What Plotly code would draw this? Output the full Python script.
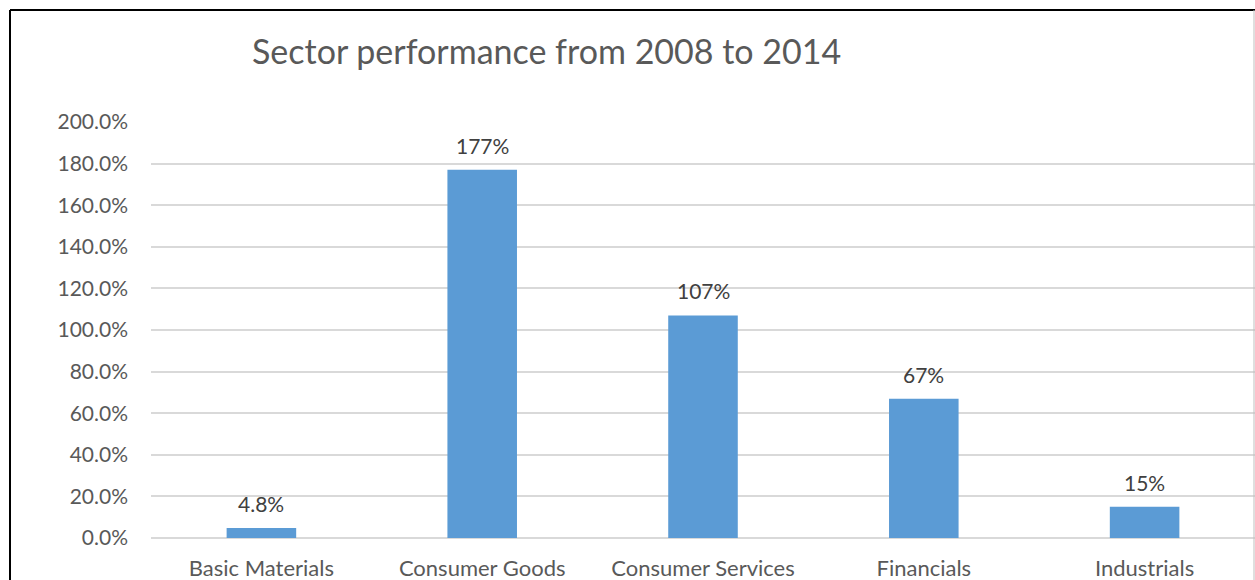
import plotly.graph_objects as go

# Sector returns over 2008-2014, as fractions
sectors = ["Basic Materials", "Consumer Goods", "Consumer Services", "Financials", "Industrials"]
returns = [0.048, 1.77, 1.07, 0.67, 0.15]
y_ticks = [0, 0.2, 0.4, 0.6, 0.8, 1.0, 1.2, 1.4, 1.6, 1.8, 2.0]

FONT = "Lato, 'Noto Sans', sans-serif"
W, H = 1255, 580
L, R, T, B = 151, 0, 122, 42

fig = go.Figure(
    go.Bar(
        x=sectors,
        y=returns,
        marker=dict(color="#5B9BD5", line=dict(width=0)),
        width=0.315,
        hoverinfo="skip",
    )
)

# value labels above each bar
for s, v in zip(sectors, returns):
    fig.add_annotation(
        x=s, y=v, xref="x", yref="y",
        text=f"{v * 100:.3g}%",
        showarrow=False, yanchor="bottom", yshift=10,
        font=dict(family=FONT, size=21, color="#404040"),
    )

# chart frame (top/left dark, right light)
def px_x(p):
    return (p - L) / (W - L - R)

def px_y(p):
    return (H - B - p) / (H - T - B)

fig.add_shape(type="line", xref="paper", yref="paper",
              x0=px_x(10), x1=px_x(1256), y0=px_y(10), y1=px_y(10),
              line=dict(color="#000000", width=2))
fig.add_shape(type="line", xref="paper", yref="paper",
              x0=px_x(10), x1=px_x(10), y0=px_y(10), y1=px_y(582),
              line=dict(color="#000000", width=2))
fig.add_shape(type="line", xref="paper", yref="paper",
              x0=px_x(1254), x1=px_x(1254), y0=px_y(10), y1=px_y(582),
              line=dict(color="#BFBFBF", width=1))

fig.update_layout(
    width=W, height=H,
    margin=dict(l=L, r=R, t=T, b=B, pad=0),
    paper_bgcolor="white", plot_bgcolor="white",
    showlegend=False,
    bargap=0.685,
    title=dict(
        text="Sector performance from 2008 to 2014",
        x=252 / W, xanchor="left", xref="container",
        y=1 - 52 / H, yanchor="middle", yref="container",
        font=dict(family=FONT, size=34, color="#595959"),
    ),
    xaxis=dict(
        type="category", showgrid=False, showline=False, zeroline=False,
        ticks="", ticklabelstandoff=15,
        tickfont=dict(family=FONT, size=22, color="#595959"),
    ),
    yaxis=dict(
        range=[0, 2.0], tickvals=y_ticks, tickformat=".1%",
        showgrid=True, gridcolor="#D9D9D9", gridwidth=1.5,
        zeroline=True, zerolinecolor="#D9D9D9", zerolinewidth=1.5,
        showline=False, ticks="", ticklabelstandoff=22,
        tickfont=dict(family=FONT, size=21, color="#595959"),
    ),
)

fig.write_html("out.html")
